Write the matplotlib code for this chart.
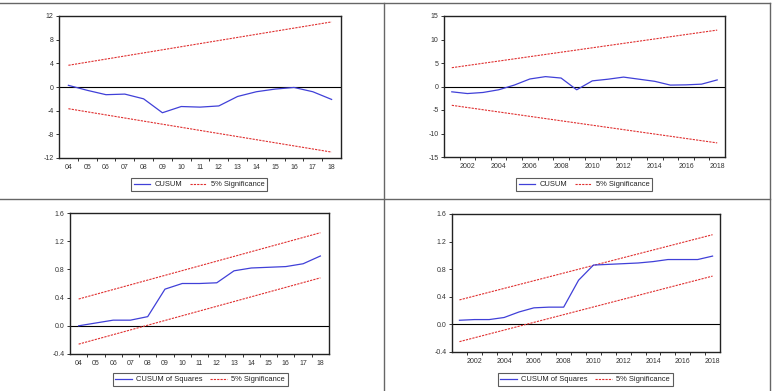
import numpy as np
import matplotlib
matplotlib.use("Agg")
import matplotlib.pyplot as plt
from matplotlib.lines import Line2D

plt.rcParams['font.family'] = ['Liberation Sans', 'DejaVu Sans']

# left panels: two-digit year labels
short_labels = ['04', '05', '06', '07', '08', '09', '10', '11', '12', '13', '14', '15', '16', '17', '18']
cusum_a = [0.28, -0.56, -1.3, -1.2, -2.0, -4.35, -3.3, -3.4, -3.2, -1.6, -0.8, -0.35, -0.08, -0.8, -2.1]
cusum_a_bound = [3.67, 11.0]          # at first and last obs
cusumsq_a = [0.0, 0.04, 0.08, 0.08, 0.13, 0.52, 0.60, 0.60, 0.61, 0.78, 0.82, 0.83, 0.84, 0.88, 0.99]
cusumsq_a_upper = [0.38, 1.32]
cusumsq_a_lower = [-0.26, 0.68]

# right panels: annual 2001-2018
years = list(range(2001, 2019))
cusum_b = [-1.13, -1.5, -1.27, -0.7, 0.3, 1.6, 2.1, 1.8, -0.7, 1.2, 1.55, 2.0, 1.55, 1.1, 0.3, 0.35, 0.5, 1.4]
cusum_b_bound = [4.0, 12.0]
cusumsq_b = [0.06, 0.07, 0.07, 0.10, 0.18, 0.24, 0.25, 0.25, 0.64, 0.86, 0.87, 0.88, 0.89, 0.91, 0.94, 0.94, 0.94, 0.99]
cusumsq_b_upper = [0.355, 1.30]
cusumsq_b_lower = [-0.25, 0.70]

BLUE = '#4040D8'
RED = '#E03030'
TICK_FS = 5.0
LEG_FS = 5.4


def style_axis(ax, yticks, fmt):
    ax.set_ylim(yticks[0], yticks[-1])
    ax.set_yticks(yticks)
    ax.set_yticklabels([fmt.format(v) for v in yticks])
    ax.axhline(0, color='black', lw=0.8, zorder=1)
    for s in ax.spines.values():
        s.set_linewidth(1.0)
        s.set_color('#222222')
    ax.tick_params(axis='y', which='major', direction='out', length=2.5, width=0.7,
                   pad=1.5, labelsize=TICK_FS, colors='#333333')
    ax.tick_params(axis='x', which='major', length=0, pad=4, labelsize=TICK_FS, colors='#333333')
    ax.tick_params(axis='x', which='minor', direction='out', length=2.5, width=0.7, color='#333333')


def add_legend(ax, fig, cx, cy, label):
    handles = [Line2D([], [], color=BLUE, lw=0.9),
               Line2D([], [], color=RED, lw=0.8, ls=(0, (2, 1)))]
    leg = ax.legend(handles, [label, '5% Significance'], ncol=2, loc='center',
                    bbox_to_anchor=(cx, cy), bbox_transform=fig.transFigure,
                    fontsize=LEG_FS, frameon=True, fancybox=False, borderpad=0.35,
                    handlelength=2.2, handletextpad=0.6, columnspacing=1.0,
                    borderaxespad=0)
    leg.get_frame().set_edgecolor('#333333')
    leg.get_frame().set_linewidth(0.8)
    for t in leg.get_texts():
        t.set_color('#222222')


fig = plt.figure(figsize=(7.73, 3.91), dpi=100)
W, H = 773.0, 391.0


def make_axes(x0, x1, ytop, ybot):
    return fig.add_axes([x0 / W, 1 - ybot / H, (x1 - x0) / W, (ybot - ytop) / H])


# top-left: CUSUM, short labels
ax1 = make_axes(59, 341, 16, 158)
xs = np.arange(len(short_labels))
ax1.plot(xs, cusum_a, color=BLUE, lw=0.9, zorder=3)
ax1.plot([xs[0], xs[-1]], cusum_a_bound, color=RED, lw=0.8, ls=(0, (2, 1)), zorder=2)
ax1.plot([xs[0], xs[-1]], [-v for v in cusum_a_bound], color=RED, lw=0.8, ls=(0, (2, 1)), zorder=2)
ax1.set_xlim(-0.5, len(short_labels) - 0.5)
ax1.set_xticks(xs)
ax1.set_xticklabels(short_labels)
ax1.set_xticks(xs[:-1] + 0.5, minor=True)
style_axis(ax1, [-12, -8, -4, 0, 4, 8, 12], '{:d}')
add_legend(ax1, fig, 199 / W, 1 - 184.5 / H, 'CUSUM')

# top-right: CUSUM, years
ax2 = make_axes(444, 725, 16, 157)
ax2.plot(years, cusum_b, color=BLUE, lw=0.9, zorder=3)
ax2.plot([years[0], years[-1]], cusum_b_bound, color=RED, lw=0.8, ls=(0, (2, 1)), zorder=2)
ax2.plot([years[0], years[-1]], [-v for v in cusum_b_bound], color=RED, lw=0.8, ls=(0, (2, 1)), zorder=2)
ax2.set_xlim(years[0] - 0.5, years[-1] + 0.5)
ax2.set_xticks([y for y in years if y % 2 == 0])
ax2.set_xticks([y + 0.5 for y in years[:-1]], minor=True)
style_axis(ax2, [-15, -10, -5, 0, 5, 10, 15], '{:d}')
add_legend(ax2, fig, 584 / W, 1 - 184.5 / H, 'CUSUM')

# bottom-left: CUSUM of squares, short labels
ax3 = make_axes(70, 329, 213, 354)
ax3.plot(xs, cusumsq_a, color=BLUE, lw=0.9, zorder=3)
ax3.plot([xs[0], xs[-1]], cusumsq_a_upper, color=RED, lw=0.8, ls=(0, (2, 1)), zorder=2)
ax3.plot([xs[0], xs[-1]], cusumsq_a_lower, color=RED, lw=0.8, ls=(0, (2, 1)), zorder=2)
ax3.set_xlim(-0.5, len(short_labels) - 0.5)
ax3.set_xticks(xs)
ax3.set_xticklabels(short_labels)
ax3.set_xticks(xs[:-1] + 0.5, minor=True)
style_axis(ax3, [-0.4, 0.0, 0.4, 0.8, 1.2, 1.6], '{:.1f}')
add_legend(ax3, fig, 200 / W, 1 - 379.5 / H, 'CUSUM of Squares')

# bottom-right: CUSUM of squares, years
ax4 = make_axes(452, 720, 214, 352)
ax4.plot(years, cusumsq_b, color=BLUE, lw=0.9, zorder=3)
ax4.plot([years[0], years[-1]], cusumsq_b_upper, color=RED, lw=0.8, ls=(0, (2, 1)), zorder=2)
ax4.plot([years[0], years[-1]], cusumsq_b_lower, color=RED, lw=0.8, ls=(0, (2, 1)), zorder=2)
ax4.set_xlim(years[0] - 0.5, years[-1] + 0.5)
ax4.set_xticks([y for y in years if y % 2 == 0])
ax4.set_xticks([y + 0.5 for y in years[:-1]], minor=True)
style_axis(ax4, [-0.4, 0.0, 0.4, 0.8, 1.2, 1.6], '{:.1f}')
add_legend(ax4, fig, 585 / W, 1 - 379.5 / H, 'CUSUM of Squares')

# panel frame lines
grey = '#666666'
fig.add_artist(Line2D([0, 770 / W], [1 - 2.5 / H, 1 - 2.5 / H], color=grey, lw=1.0, transform=fig.transFigure))
fig.add_artist(Line2D([0, 770 / W], [1 - 198.5 / H, 1 - 198.5 / H], color=grey, lw=1.0, transform=fig.transFigure))
fig.add_artist(Line2D([383.5 / W, 383.5 / W], [0, 1 - 2.5 / H], color=grey, lw=1.0, transform=fig.transFigure))
fig.add_artist(Line2D([769.5 / W, 769.5 / W], [0, 1 - 2.5 / H], color=grey, lw=1.0, transform=fig.transFigure))

fig.savefig('out.png', dpi=100)
